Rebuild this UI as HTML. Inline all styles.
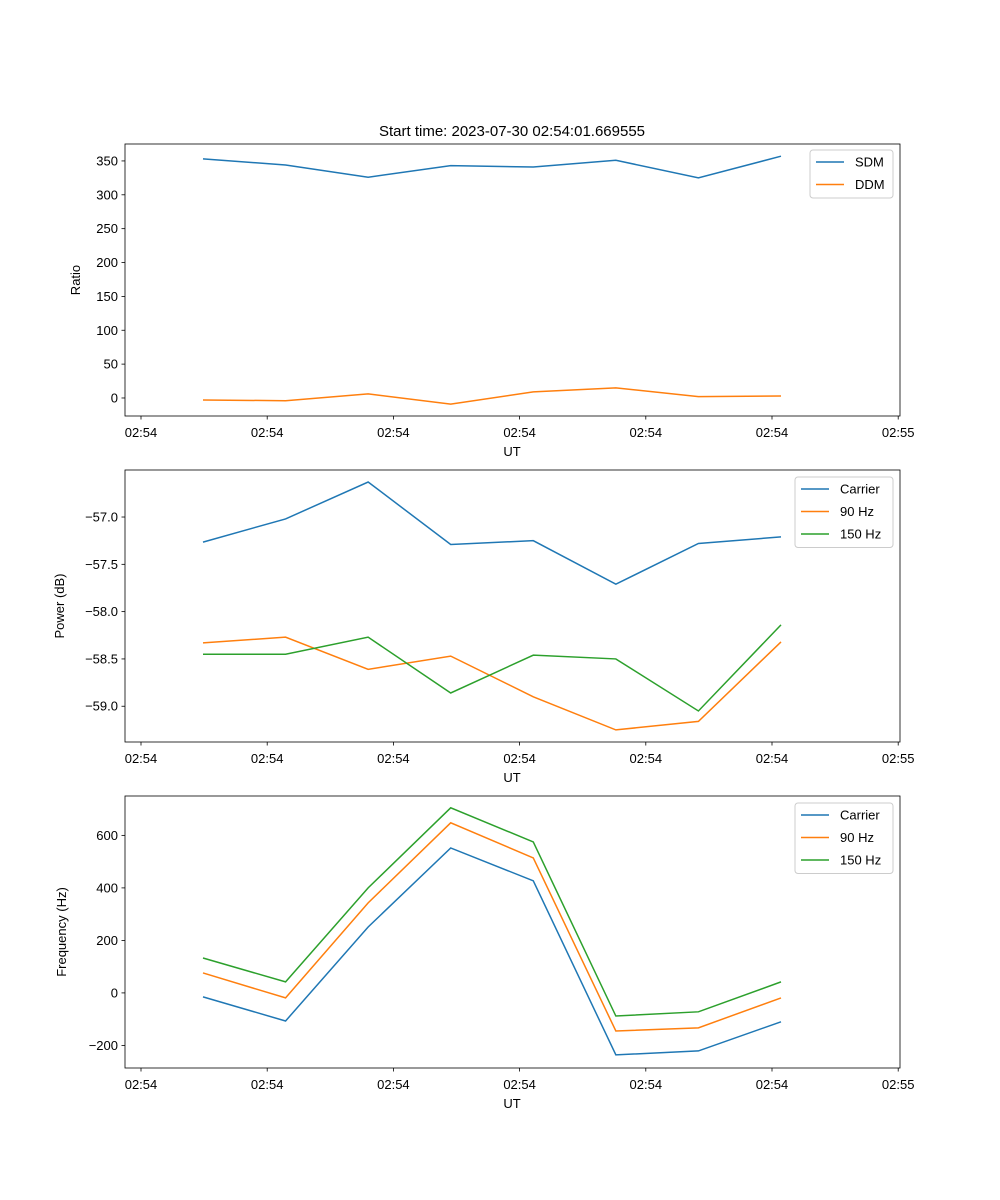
<!DOCTYPE html>
<html><head><meta charset="utf-8"><style>
body{margin:0;background:#fff}
svg{display:block;font-family:"Liberation Sans","DejaVu Sans",sans-serif}
</style></head><body>
<svg id="fig" width="1000" height="1200" viewBox="0 0 1000 1200">
<rect width="1000" height="1200" fill="#fff"/>
<text x="512" y="136" font-size="15" text-anchor="middle">Start time: 2023-07-30 02:54:01.669555</text>
</svg>
<script>
const xTickLabels = ["02:54","02:54","02:54","02:54","02:54","02:54","02:55"];
const sdm = [353,344,326,343,341,351,325,357];
const ddm = [-3,-4,6,-9,9,15,2,3];
const ratioTicks = [0,50,100,150,200,250,300,350];
const powCarrier = [-57.265,-57.02,-56.63,-57.29,-57.25,-57.71,-57.28,-57.21];
const pow90 = [-58.33,-58.27,-58.61,-58.47,-58.9,-59.25,-59.16,-58.32];
const pow150 = [-58.45,-58.45,-58.27,-58.86,-58.46,-58.5,-59.05,-58.14];
const powTicks = [-59.0,-58.5,-58.0,-57.5,-57.0];
const freqCarrier = [-15,-107,251,552,427,-236,-221,-110];
const freq90 = [76,-19,343,648,514,-145,-133,-19];
const freq150 = [133,42,400,705,575,-88,-72,42];
const freqTicks = [-200,0,200,400,600];

const NS="http://www.w3.org/2000/svg";
const svg=document.getElementById('fig');
function mk(t,a,p){const e=document.createElementNS(NS,t);for(const k in a)e.setAttribute(k,a[k]);(p||svg).appendChild(e);return e;}
const L=125,R=900;
const xPt=i=>203+i*82.57;
const xTick=i=>141+i*126.2;
const C=['#1f77b4','#ff7f0e','#2ca02c'];

function panel(top,bot,ymin,ymax,ticks,fmt,ylabel,ylx,series,names,leg,pname){
  const g=mk('g',{});
  
  
  const y=v=>bot-(v-ymin)/(ymax-ymin)*(bot-top);
  series.forEach((s,k)=>{
    const p=mk('polyline',{points:s.map((v,i)=>xPt(i)+','+y(v)).join(' '),fill:'none',stroke:C[k],'stroke-width':1.5},g);
    
    
  });
  mk('rect',{x:L,y:top,width:R-L,height:bot-top,fill:'none',stroke:'#000','stroke-width':0.8},g);
  ticks.forEach(v=>{
    const yy=y(v);
    mk('line',{x1:L-3.5,x2:L,y1:yy,y2:yy,stroke:'#000','stroke-width':0.8},g);
    const t=mk('text',{x:L-7,y:yy+4.5,'font-size':13,'text-anchor':'end'},g);
    t.textContent=fmt(v);
    
    
  });
  xTickLabels.forEach((s,i)=>{
    const xx=xTick(i);
    mk('line',{x1:xx,x2:xx,y1:bot,y2:bot+3.5,stroke:'#000','stroke-width':0.8},g);
    const t=mk('text',{x:xx,y:bot+21,'font-size':13,'text-anchor':'middle'},g);
    t.textContent=s;
    
    
  });
  const xl=mk('text',{x:512,y:bot+40,'font-size':13,'text-anchor':'middle'},g);
  xl.textContent='UT';
  
  
  const cy=(top+bot)/2;
  const yl=mk('text',{x:ylx,y:cy,'font-size':13,'text-anchor':'middle',transform:`rotate(-90 ${ylx} ${cy})`},g);
  yl.textContent=ylabel;
  
  
  const lg=mk('g',{},g);
  
  
  mk('rect',{x:leg[0],y:leg[1],width:leg[2],height:names.length*22.5+3,rx:3,fill:'#fff','fill-opacity':0.8,stroke:'#ccc'},lg);
  names.forEach((n,k)=>{
    const ly=leg[1]+12+k*22.5;
    mk('line',{x1:leg[0]+6,x2:leg[0]+34,y1:ly,y2:ly,stroke:C[k],'stroke-width':1.5},lg);
    const t=mk('text',{x:leg[0]+45,y:ly+4.5,'font-size':13},lg);
    t.textContent=n;
    
    
  });
}
panel(144,416,-26.6,375,ratioTicks,v=>String(v),'Ratio',80,[sdm,ddm],['SDM','DDM'],[810,150,83],'ratio-panel');
panel(470,742,-59.378,-56.503,powTicks,v=>(v<0?'\u2212':'')+Math.abs(v).toFixed(1),'Power (dB)',64,[powCarrier,pow90,pow150],['Carrier','90 Hz','150 Hz'],[795,477,98],'power-panel');
panel(796,1068,-286,750,freqTicks,v=>(v<0?'\u2212':'')+Math.abs(v),'Frequency (Hz)',66,[freqCarrier,freq90,freq150],['Carrier','90 Hz','150 Hz'],[795,803,98],'frequency-panel');
</script>
</body></html>
